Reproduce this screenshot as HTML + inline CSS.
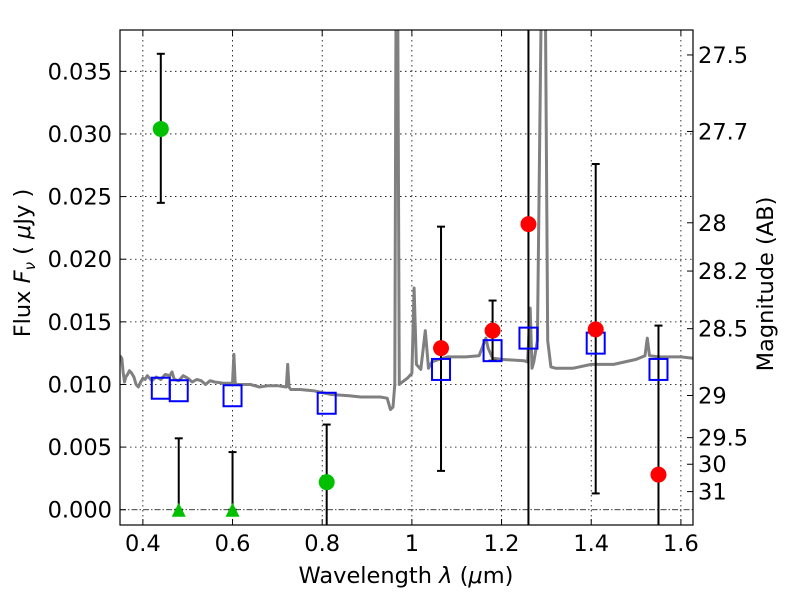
<!DOCTYPE html>
<html><head><meta charset="utf-8"><style>
html,body{margin:0;padding:0;background:#fff;}
svg{display:block;font-family:"DejaVu Sans","Liberation Sans",sans-serif;}
</style></head><body>
<svg id="chart" width="800" height="600" viewBox="0 0 800 600" xmlns="http://www.w3.org/2000/svg"></svg>
<script>
const xTicks=[0.4,0.6,0.8,1.0,1.2,1.4,1.6];
const xTickLabels=["0.4","0.6","0.8","1","1.2","1.4","1.6"];
const yTicks=[0,0.005,0.010,0.015,0.020,0.025,0.030,0.035];
const yTickLabels=["0.000","0.005","0.010","0.015","0.020","0.025","0.030","0.035"];
const magTicks=[27.5,27.7,28,28.2,28.5,29,29.5,30,31];
const magLabels=["27.5","27.7","28","28.2","28.5","29","29.5","30","31"];
const specWl=[0.349,0.353,0.356,0.359,0.362,0.366,0.37,0.375,0.38,0.385,0.39,0.395,0.40,0.405,0.41,0.415,0.42,0.43,0.44,0.45,0.46,0.465,0.47,0.48,0.49,0.50,0.51,0.52,0.53,0.54,0.55,0.56,0.58,0.60,0.603,0.606,0.61,0.62,0.64,0.66,0.68,0.70,0.72,0.723,0.726,0.73,0.75,0.78,0.82,0.86,0.886,0.93,0.945,0.952,0.958,0.962,0.965,0.968,0.972,0.975,0.99,1.0,1.005,1.01,1.02,1.03,1.037,1.045,1.06,1.08,1.12,1.15,1.165,1.17,1.18,1.2,1.25,1.258,1.264,1.268,1.272,1.28,1.29,1.297,1.303,1.31,1.32,1.36,1.4,1.45,1.5,1.52,1.525,1.53,1.55,1.6,1.627];
const specFlux=[0.0123,0.0121,0.0110,0.0102,0.0106,0.0108,0.0111,0.0109,0.0106,0.0100,0.0098,0.0102,0.0105,0.0104,0.0107,0.0105,0.0103,0.0106,0.0104,0.0108,0.0107,0.0110,0.0104,0.0103,0.0107,0.0105,0.0102,0.0104,0.0103,0.0100,0.0103,0.0102,0.0101,0.0101,0.0124,0.0101,0.0100,0.0100,0.0100,0.0098,0.0099,0.0099,0.0098,0.0116,0.0098,0.0096,0.0096,0.0095,0.0092,0.0091,0.0090,0.0090,0.0089,0.0080,0.0082,0.0100,0.045,0.045,0.0100,0.0101,0.0105,0.0109,0.0177,0.0116,0.0112,0.0143,0.0113,0.0118,0.0120,0.0122,0.0122,0.0123,0.0137,0.0129,0.0121,0.0120,0.0119,0.0118,0.0161,0.0113,0.0118,0.0135,0.045,0.045,0.0135,0.0114,0.0113,0.0113,0.0116,0.0116,0.0120,0.0123,0.0137,0.0123,0.0122,0.0122,0.0121];
const blueWl=[0.44,0.48,0.60,0.81,1.065,1.18,1.26,1.41,1.55];
const blueFlux=[0.0097,0.0095,0.0091,0.0085,0.0112,0.0127,0.0137,0.0133,0.0112];
const redWl=[1.065,1.18,1.26,1.41,1.55];
const redFlux=[0.0129,0.0143,0.0228,0.0144,0.0028];
const redLo=[0.0031,0.0119,-0.002,0.0013,-0.002];
const redHi=[0.0226,0.0167,0.040,0.0276,0.0147];
const greenWl=[0.44,0.81];
const greenFlux=[0.0304,0.0022];
const greenLo=[0.0245,-0.002];
const greenHi=[0.0364,0.0068];
const triWl=[0.48,0.60];
const triFlux=[0.0,0.0];
const triHi=[0.0057,0.0046];

const L=120,R=693,T=30,B=525;
const X0=0.349,X1=1.627;
const Y0=-0.00122,Y1=0.0383;
const FS=22.5;
const sx=v=>L+(v-X0)/(X1-X0)*(R-L);
const sy=v=>B-(v-Y0)/(Y1-Y0)*(B-T);
const svg=document.getElementById('chart');
const NS='http://www.w3.org/2000/svg';
function mk(tag,attrs,parent){const e=document.createElementNS(NS,tag);for(const k in attrs)e.setAttribute(k,attrs[k]);(parent||svg).appendChild(e);return e;}
const clip=mk('clipPath',{id:'pc'});mk('rect',{x:L,y:T,width:R-L,height:B-T},clip);

xTicks.forEach((t,i)=>{
 const g=mk('line',{x1:sx(t),x2:sx(t),y1:T,y2:B,stroke:'#000','stroke-width':0.8,'stroke-dasharray':'1.5,3.5'});
 
 
 mk('line',{x1:sx(t),x2:sx(t),y1:B,y2:B-6,stroke:'#000'});
 mk('line',{x1:sx(t),x2:sx(t),y1:T,y2:T+6,stroke:'#000'});
 const tx=mk('text',{x:sx(t),y:B+26,'text-anchor':'middle','font-size':FS});
 tx.textContent=xTickLabels[i];
 
 
});
yTicks.forEach((t,i)=>{
 if(t!==0){const g=mk('line',{x1:L,x2:R,y1:sy(t),y2:sy(t),stroke:'#000','stroke-width':0.8,'stroke-dasharray':'1.5,3.5'});
 
 }
 mk('line',{x1:L,x2:L+6,y1:sy(t),y2:sy(t),stroke:'#000'});
 const tx=mk('text',{x:L-8,y:sy(t)+8,'text-anchor':'end','font-size':FS});
 tx.textContent=yTickLabels[i];
 
 
});
const zl=mk('line',{x1:L,x2:R,y1:sy(0),y2:sy(0),stroke:'#000','stroke-width':0.8,'stroke-dasharray':'6,2,1.5,2'});


magTicks.forEach((m,i)=>{
 const f=Math.pow(10,(23.9-m)/2.5);
 mk('line',{x1:R,x2:R-6,y1:sy(f),y2:sy(f),stroke:'#000'});
 const tx=mk('text',{x:R+5,y:sy(f)+8,'font-size':FS});
 tx.textContent=magLabels[i];
 
 
});

const cg=mk('g',{'clip-path':'url(#pc)'});
const d=specWl.map((w,i)=>(i?'L':'M')+sx(w).toFixed(1)+','+sy(specFlux[i]).toFixed(1)).join(' ');
const sp=mk('path',{d:d,fill:'none',stroke:'#808080','stroke-width':3,'stroke-linejoin':'round'},cg);



function errbar(w,lo,hi,name){
 const g=mk('g',{},cg);
 
 
 const x=sx(w);
 mk('line',{x1:x,x2:x,y1:sy(lo),y2:sy(hi),stroke:'#000','stroke-width':2},g);
 mk('line',{x1:x-4,x2:x+4,y1:sy(hi),y2:sy(hi),stroke:'#000','stroke-width':2},g);
 mk('line',{x1:x-4,x2:x+4,y1:sy(lo),y2:sy(lo),stroke:'#000','stroke-width':2},g);
}
redWl.forEach((w,i)=>errbar(w,redLo[i],redHi[i],'red-error-bar'));
greenWl.forEach((w,i)=>errbar(w,greenLo[i],greenHi[i],'green-error-bar'));
triWl.forEach((w,i)=>errbar(w,triFlux[i],triHi[i],'limit-error-bar'));

blueWl.forEach((w,i)=>{
 const r=mk('rect',{x:sx(w)-9,y:sy(blueFlux[i])-10.5,width:18,height:21,fill:'none',stroke:'#0000ff','stroke-width':2},cg);
 
 
});
redWl.forEach((w,i)=>{
 const c=mk('circle',{cx:sx(w),cy:sy(redFlux[i]),r:8,fill:'#ff0000'},cg);
 
 
});
greenWl.forEach((w,i)=>{
 const c=mk('circle',{cx:sx(w),cy:sy(greenFlux[i]),r:8,fill:'#00c000'},cg);
 
 
});
triWl.forEach((w,i)=>{
 const x=sx(w),y=sy(triFlux[i]);
 const p=mk('polygon',{points:`${x-7},${y+7} ${x+7},${y+7} ${x},${y-7}`,fill:'#00c000'},cg);
 
 
});

const fr=mk('rect',{x:L,y:T,width:R-L,height:B-T,fill:'none',stroke:'#000','stroke-width':1.2});


</script>
<svg style="position:absolute;left:0;top:0" width="800" height="600">
<text x="406" y="583" text-anchor="middle" font-size="22.5" font-family="DejaVu Sans, Liberation Sans, sans-serif">Wavelength  <tspan font-style="italic">λ</tspan> (<tspan font-style="italic">μ</tspan>m)</text>
<text transform="translate(30,263) rotate(-90)" text-anchor="middle" font-size="22.5" font-family="DejaVu Sans, Liberation Sans, sans-serif">Flux  <tspan font-style="italic">F</tspan><tspan font-style="italic" font-size="15" dy="5">ν</tspan><tspan dy="-5">  ( </tspan><tspan font-style="italic">μ</tspan>Jy )</text>
<text transform="translate(773,284) rotate(-90)" text-anchor="middle" font-size="22.5" font-family="DejaVu Sans, Liberation Sans, sans-serif">Magnitude (AB)</text>
</svg>
</body></html>
